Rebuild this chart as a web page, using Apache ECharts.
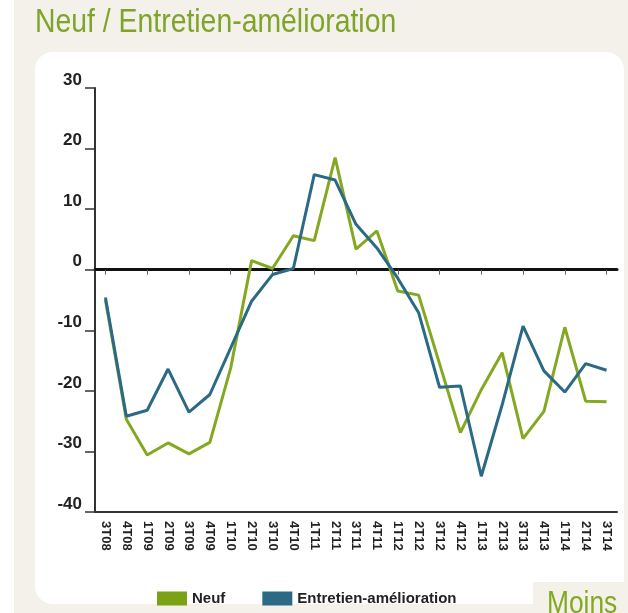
<!DOCTYPE html>
<html>
<head>
<meta charset="utf-8">
<script src="https://cdn.jsdelivr.net/npm/echarts@6/dist/echarts.min.js"></script>
<style>
  html, body { margin: 0; padding: 0; background: #fff; }
  #chart { width: 628px; height: 613px; }
</style>
</head>
<body>
<div id="chart"></div>
<script>
// quarters on the x axis
const quarters = ['3T08','4T08','1T09','2T09','3T09','4T09','1T10','2T10','3T10','4T10',
  '1T11','2T11','3T11','4T11','1T12','2T12','3T12','4T12','1T13','2T13','3T13','4T13',
  '1T14','2T14','3T14'];

// values
const neuf = [-5, -24.7, -30.6, -28.6, -30.4, -28.5, -16.2, 1.5, 0.2, 5.6, 4.8, 18.5, 3.4, 6.4,
  -3.5, -4.2, -15.5, -26.9, -19.8, -13.7, -27.9, -23.4, -9.5, -21.7, -21.8];
const entretien = [-4.6, -24.2, -23.2, -16.4, -23.5, -20.6, -12.9, -5.2, -0.8, 0.2, 15.7, 14.8, 7.5, 3.6,
  -1.4, -7.1, -19.4, -19.2, -34.1, -22.3, -9.3, -16.7, -20.2, -15.5, -16.6];

const yTicks = { min: -40, max: 30, step: 10 };

const font = '"Liberation Sans", Arial, sans-serif';
const green = '#84a821';
const blue = '#2b6a84';

let chart = echarts.init(document.getElementById('chart'));

let option = {
  animation: false,
  backgroundColor: '#ffffff',
  graphic: [
    { type: 'rect', z: -10, shape: { x: 14, y: 0, width: 614, height: 613 }, style: { fill: '#f3f1ea' } },
    { type: 'rect', z: -9, shape: { x: 35, y: 52, width: 589, height: 552, r: 18 }, style: { fill: '#ffffff' } },
    { type: 'rect', z: -8, shape: { x: 533, y: 582, width: 95, height: 31 }, style: { fill: '#f3f1ea' } },
    // narrow-looking texts: squeeze a normal font horizontally
    { type: 'text', z: -7, x: 547, y: 589, scaleX: 0.85,
      style: { text: 'Moins', fill: '#84a821', font: '31px ' + font } },
    { type: 'text', z: -7, x: 35, y: 6, scaleX: 0.86,
      style: { text: 'Neuf / Entretien-amélioration', fill: '#80a32b', font: '33px ' + font } }
  ],
  legend: {
    left: 157,
    top: 591,
    padding: 0,
    itemWidth: 30,
    itemHeight: 14,
    itemGap: 37,
    icon: 'rect',
    textStyle: { color: '#222', fontSize: 15, fontWeight: 'bold', fontFamily: font },
    data: [
      { name: 'Neuf', itemStyle: { color: '#7ba114' } },
      { name: 'Entretien-amélioration', itemStyle: { color: blue } }
    ]
  },
  grid: { left: 95, right: 11, top: 88, bottom: 101 },
  xAxis: [
    {
      type: 'category',
      data: quarters,
      position: 'bottom',
      axisLine: { onZero: false, lineStyle: { color: '#333', width: 2 } },
      axisTick: { show: false },
      axisLabel: { rotate: -90, margin: 9, color: '#222', fontSize: 13, fontFamily: font, fontWeight: 'bold', interval: 0 }
    },
    {
      type: 'category',
      data: quarters,
      position: 'top',
      axisLine: { onZero: true, lineStyle: { color: '#111', width: 3 } },
      axisTick: { show: true, inside: true, alignWithLabel: true, length: 5, lineStyle: { color: '#666', width: 1 } },
      axisLabel: { show: false }
    }
  ],
  yAxis: {
    type: 'value',
    min: yTicks.min,
    max: yTicks.max,
    interval: yTicks.step,
    axisLine: { show: true, onZero: false, lineStyle: { color: '#333', width: 2 } },
    axisTick: { show: true, length: 10, lineStyle: { color: '#333', width: 1.5 } },
    splitLine: { show: false },
    axisLabel: { margin: 13, verticalAlign: 'bottom', lineHeight: 16, color: '#222', fontSize: 17, fontWeight: 'bold', fontFamily: font }
  },
  series: [
    {
      name: 'Neuf',
      type: 'line',
      data: neuf,
      showSymbol: false,
      lineStyle: { color: green, width: 3 },
      itemStyle: { color: '#7ba114' }
    },
    {
      name: 'Entretien-amélioration',
      type: 'line',
      data: entretien,
      showSymbol: false,
      lineStyle: { color: blue, width: 3 },
      itemStyle: { color: blue }
    }
  ]
};

chart.setOption(option);
</script>
</body>
</html>
